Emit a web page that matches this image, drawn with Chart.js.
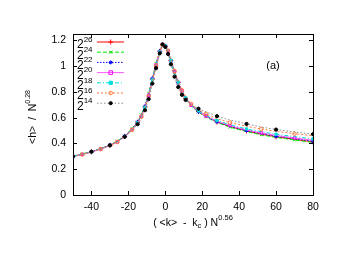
<!DOCTYPE html>
<html>
<head>
<meta charset="utf-8">
<script src="https://cdn.jsdelivr.net/npm/chart.js@4.4.1/dist/chart.umd.min.js"></script>
<style>
  html, body { margin: 0; padding: 0; background: #fff; }
  #wrap { width: 341px; height: 264px; }
</style>
</head>
<body>
<div id="wrap"><canvas id="chart"></canvas></div>
<script>
// scaled variable ( <k> - k_c ) N^0.56, shared by all sizes
const xValues = [-50, -45, -40, -35, -30, -26, -22, -18, -15, -13, -11, -9, -7, -5, -3, -1.5, 0, 1.5, 3, 5, 7, 9, 11, 14, 18, 22, 28, 35, 44, 52, 60, 70, 80];

const seriesLabels = ['26', '24', '22', '20', '18', '16', '14'];

const h26 = [0.300, 0.316, 0.335, 0.358, 0.385, 0.414, 0.455, 0.510, 0.565, 0.615, 0.685, 0.780, 0.900, 1.015, 1.115, 1.165, 1.155, 1.115, 1.045, 0.955, 0.875, 0.805, 0.752, 0.697, 0.648, 0.612, 0.567, 0.532, 0.497, 0.472, 0.452, 0.432, 0.412];
const h24 = [0.302, 0.318, 0.337, 0.360, 0.388, 0.418, 0.460, 0.515, 0.570, 0.622, 0.692, 0.790, 0.910, 1.022, 1.118, 1.163, 1.150, 1.108, 1.035, 0.948, 0.868, 0.798, 0.746, 0.692, 0.643, 0.607, 0.562, 0.527, 0.492, 0.467, 0.447, 0.427, 0.408];
const h22 = [0.301, 0.317, 0.336, 0.359, 0.387, 0.416, 0.457, 0.512, 0.567, 0.618, 0.688, 0.784, 0.904, 1.018, 1.116, 1.166, 1.157, 1.112, 1.040, 0.950, 0.870, 0.800, 0.748, 0.694, 0.646, 0.611, 0.568, 0.534, 0.500, 0.476, 0.456, 0.437, 0.418];
const h20 = [0.299, 0.315, 0.334, 0.357, 0.384, 0.413, 0.453, 0.507, 0.561, 0.611, 0.680, 0.774, 0.894, 1.010, 1.112, 1.168, 1.160, 1.118, 1.048, 0.957, 0.876, 0.806, 0.752, 0.697, 0.649, 0.614, 0.572, 0.539, 0.505, 0.482, 0.462, 0.443, 0.425];
const h18 = [0.300, 0.316, 0.335, 0.358, 0.385, 0.414, 0.454, 0.508, 0.562, 0.612, 0.681, 0.775, 0.895, 1.010, 1.110, 1.165, 1.158, 1.116, 1.046, 0.956, 0.876, 0.807, 0.754, 0.700, 0.653, 0.619, 0.578, 0.546, 0.513, 0.491, 0.472, 0.453, 0.436];
const h16 = [0.298, 0.314, 0.333, 0.356, 0.383, 0.412, 0.452, 0.505, 0.558, 0.607, 0.674, 0.766, 0.885, 1.002, 1.106, 1.165, 1.160, 1.120, 1.052, 0.962, 0.882, 0.813, 0.760, 0.707, 0.662, 0.630, 0.592, 0.562, 0.534, 0.512, 0.494, 0.476, 0.460];
const h14 = [0.300, 0.316, 0.336, 0.359, 0.386, 0.414, 0.452, 0.502, 0.550, 0.596, 0.658, 0.745, 0.865, 0.985, 1.100, 1.170, 1.150, 1.095, 1.015, 0.918, 0.838, 0.778, 0.738, 0.700, 0.670, 0.645, 0.612, 0.582, 0.552, 0.528, 0.508, 0.490, 0.472];

const xTicks = [-40, -20, 0, 20, 40, 60, 80];
const yTicks = [0, 0.2, 0.4, 0.6, 0.8, 1, 1.2];

const FONT = '"Liberation Sans", Arial, Helvetica, sans-serif';

const styles = [
  { line: '#ff0000', point: '#ff0000', fill: '#ff0000', shape: 'cross', r: 2.5, dash: [] },
  { line: '#00ee00', point: '#00dd00', fill: '#00dd00', shape: 'crossRot', r: 2, dash: [4, 2] },
  { line: '#0000ff', point: '#0000ff', fill: '#0000ff', shape: 'star', r: 2, dash: [1.5, 1.5] },
  { line: '#ff55ff', point: '#ff00ff', fill: 'rgba(0,0,0,0)', shape: 'rect', r: 1.8, dash: [] },
  { line: '#00dddd', point: '#00dddd', fill: '#00dddd', shape: 'rect', r: 1.6, dash: [4, 2, 1, 2] },
  { line: '#ff7a3a', point: '#ff7a3a', fill: 'rgba(0,0,0,0)', shape: 'circle', r: 1.8, dash: [2, 2] },
  { line: '#888888', point: '#000000', fill: '#000000', shape: 'circle', r: 1.6, dash: [1.5, 2] }
];

const allSeries = [h26, h24, h22, h20, h18, h16, h14];
const last = allSeries.length - 1;

function showMarker(i, idx) {
  // smallest size: dense near the peak, sparser in the tails
  if (i === last) return Math.abs(xValues[idx]) <= 12 || idx % 2 === 0;
  return (idx + i) % 2 === 0;
}

const datasets = allSeries.map((vals, i) => ({
  label: '2^' + seriesLabels[i],
  data: xValues.map((x, j) => ({ x: x, y: vals[j] })),
  borderColor: styles[i].line,
  borderWidth: 1,
  borderDash: styles[i].dash,
  pointStyle: styles[i].shape,
  pointRadius: c => showMarker(i, c.dataIndex) ? styles[i].r : 0,
  pointBorderColor: styles[i].point,
  pointBackgroundColor: styles[i].fill,
  pointBorderWidth: 1,
  tension: 0,
  fill: false,
  order: allSeries.length - i
}));

function marker(ctx, shape, x, y, r) {
  ctx.beginPath();
  if (shape === 'circle') {
    ctx.arc(x, y, r, 0, Math.PI * 2);
  } else if (shape === 'rect') {
    ctx.rect(x - r, y - r, 2 * r, 2 * r);
  } else {
    if (shape === 'cross' || shape === 'star') {
      ctx.moveTo(x - r, y); ctx.lineTo(x + r, y);
      ctx.moveTo(x, y - r); ctx.lineTo(x, y + r);
    }
    if (shape === 'crossRot' || shape === 'star') {
      const d = r * 0.75;
      ctx.moveTo(x - d, y - d); ctx.lineTo(x + d, y + d);
      ctx.moveTo(x - d, y + d); ctx.lineTo(x + d, y - d);
    }
  }
}

// text with a superscript tail, e.g. N^0.28
function supText(ctx, x, y, base, sup, size, align) {
  ctx.font = size + 'px ' + FONT;
  const wb = ctx.measureText(base).width;
  ctx.font = Math.round(size * 0.7) + 'px ' + FONT;
  const ws = ctx.measureText(sup).width;
  let x0 = x;
  if (align === 'center') x0 = x - (wb + ws) / 2;
  ctx.textAlign = 'left';
  ctx.textBaseline = 'middle';
  ctx.font = size + 'px ' + FONT;
  ctx.fillText(base, x0, y);
  ctx.font = Math.round(size * 0.7) + 'px ' + FONT;
  ctx.fillText(sup, x0 + wb, y - size * 0.45);
}

const decorations = {
  id: 'decorations',
  afterDatasetsDraw(chart) {
    const ctx = chart.ctx;
    const a = chart.chartArea;
    const xs = chart.scales.x, ys = chart.scales.y;
    ctx.save();
    ctx.strokeStyle = '#000';
    ctx.lineWidth = 1;
    ctx.setLineDash([]);
    // frame
    ctx.strokeRect(Math.round(a.left) + 0.5, Math.round(a.top) + 0.5,
      Math.round(a.right - a.left), Math.round(a.bottom - a.top));
    // inward ticks, mirrored
    const tl = 4;
    ctx.beginPath();
    xTicks.forEach(v => {
      const px = Math.round(xs.getPixelForValue(v)) + 0.5;
      ctx.moveTo(px, a.bottom); ctx.lineTo(px, a.bottom - tl);
      ctx.moveTo(px, a.top); ctx.lineTo(px, a.top + tl);
    });
    yTicks.forEach(v => {
      const py = Math.round(ys.getPixelForValue(v)) + 0.5;
      ctx.moveTo(a.left, py); ctx.lineTo(a.left + tl, py);
      ctx.moveTo(a.right, py); ctx.lineTo(a.right - tl, py);
    });
    ctx.stroke();

    // key
    ctx.fillStyle = '#000';
    allSeries.forEach((vals, i) => {
      const st = styles[i];
      const y = 42 + i * 10.2;
      supText(ctx, 77, y + 3, '2', seriesLabels[i], 12, 'left');
      ctx.strokeStyle = st.line;
      ctx.setLineDash(st.dash);
      ctx.beginPath();
      ctx.moveTo(97, y); ctx.lineTo(124, y);
      ctx.stroke();
      ctx.setLineDash([]);
      ctx.strokeStyle = st.point;
      ctx.fillStyle = st.fill;
      marker(ctx, st.shape, 110.7, y, st.r);
      if (st.shape === 'circle' || st.shape === 'rect') ctx.fill();
      ctx.stroke();
      ctx.fillStyle = '#000';
    });

    // panel tag
    ctx.font = '11px ' + FONT;
    ctx.textAlign = 'center';
    ctx.textBaseline = 'middle';
    ctx.fillText('(a)', 273, 66);

    // x axis title
    ctx.font = '10.5px ' + FONT;
    const p1 = '( <k>  -  k';
    const w1 = ctx.measureText(p1).width;
    ctx.font = '7.5px ' + FONT;
    const wc = ctx.measureText('c').width;
    ctx.font = '10.5px ' + FONT;
    const p2 = ' ) N';
    const w2 = ctx.measureText(p2).width;
    ctx.font = '7.5px ' + FONT;
    const w3 = ctx.measureText('0.56').width;
    let x0 = 193 - (w1 + wc + w2 + w3) / 2;
    const ty = 223;
    ctx.textAlign = 'left';
    ctx.font = '10.5px ' + FONT;
    ctx.fillText(p1, x0, ty);
    ctx.font = '7.5px ' + FONT;
    ctx.fillText('c', x0 + w1, ty + 3);
    ctx.font = '10.5px ' + FONT;
    ctx.fillText(p2, x0 + w1 + wc, ty);
    ctx.font = '7.5px ' + FONT;
    ctx.fillText('0.56', x0 + w1 + wc + w2, ty - 5);

    // y axis title, rotated
    ctx.translate(33, 117);
    ctx.rotate(-Math.PI / 2);
    supText(ctx, 0, 0, '<h>  /  N', '0.28', 10.5, 'center');
    ctx.restore();
  }
};

new Chart(document.getElementById('chart'), {
  type: 'line',
  data: { datasets: datasets },
  options: {
    responsive: true,
    maintainAspectRatio: false,
    animation: false,
    events: [],
    layout: { padding: { top: 34, right: 28, left: 0, bottom: 0 } },
    plugins: { legend: { display: false }, tooltip: { enabled: false } },
    scales: {
      x: {
        type: 'linear',
        min: -50,
        max: 80,
        afterFit: s => { s.height = 69; },
        afterBuildTicks: s => { s.ticks = xTicks.map(v => ({ value: v })); },
        grid: { display: false, drawTicks: false },
        border: { display: false },
        ticks: { padding: 6, color: '#000', font: { family: FONT, size: 10.5 }, maxRotation: 0 }
      },
      y: {
        min: 0,
        max: 1.25,
        afterFit: s => { s.width = 73; },
        afterBuildTicks: s => { s.ticks = yTicks.map(v => ({ value: v })); },
        grid: { display: false, drawTicks: false },
        border: { display: false },
        ticks: {
          padding: 7, color: '#000', font: { family: FONT, size: 10.5 },
          callback: v => String(Number(v.toFixed(1)))
        }
      }
    }
  },
  plugins: [decorations]
});
</script>
</body>
</html>
